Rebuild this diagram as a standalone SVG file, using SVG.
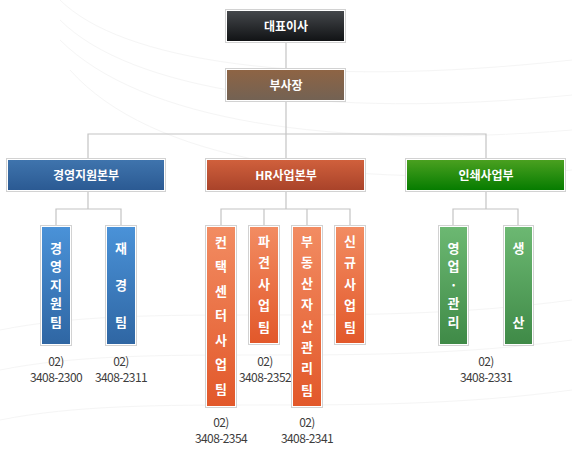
<svg xmlns="http://www.w3.org/2000/svg" width="572" height="455" viewBox="0 0 572 455">
<defs>
<linearGradient id="gDark" x1="0" y1="0" x2="0" y2="1"><stop offset="0" stop-color="#44474b"/><stop offset="1" stop-color="#111315"/></linearGradient>
<linearGradient id="gBrown" x1="0" y1="0" x2="0" y2="1"><stop offset="0" stop-color="#8e6444"/><stop offset="1" stop-color="#736253"/></linearGradient>
<linearGradient id="gBlueH" x1="0" y1="0" x2="0" y2="1"><stop offset="0" stop-color="#3f74ad"/><stop offset="1" stop-color="#2b5a93"/></linearGradient>
<linearGradient id="gOrangeH" x1="0" y1="0" x2="0" y2="1"><stop offset="0" stop-color="#d0603c"/><stop offset="1" stop-color="#a9432a"/></linearGradient>
<linearGradient id="gGreenH" x1="0" y1="0" x2="0" y2="1"><stop offset="0" stop-color="#4aa020"/><stop offset="1" stop-color="#067c00"/></linearGradient>
<linearGradient id="gBlue" x1="0" y1="0" x2="0" y2="1"><stop offset="0" stop-color="#4a92d8"/><stop offset="1" stop-color="#2f66a3"/></linearGradient>
<linearGradient id="gOrange" x1="0" y1="0" x2="0" y2="1"><stop offset="0" stop-color="#f28c62"/><stop offset="1" stop-color="#e2582a"/></linearGradient>
<linearGradient id="gGreen" x1="0" y1="0" x2="0" y2="1"><stop offset="0" stop-color="#6cb872"/><stop offset="1" stop-color="#3f8a47"/></linearGradient>
</defs>
<style>
.frame{fill:#ffffff;stroke:#d2d2d2;stroke-width:1}
.t{font-family:"Noto Sans CJK KR","Noto Sans",sans-serif;font-weight:bold;font-size:12px;fill:#ffffff;text-anchor:middle}
.v{font-family:"Noto Sans CJK KR","Noto Sans",sans-serif;font-weight:bold;font-size:13px;fill:#ffffff;text-anchor:middle}
.p{font-family:"Noto Sans CJK KR","Noto Sans",sans-serif;font-size:12px;fill:#3c3c3c;text-anchor:middle;letter-spacing:-0.6px}
.c{fill:none;stroke:#c4c4c4;stroke-width:1.2}
.bg{fill:none;stroke:#f5f5f5;stroke-width:1}
</style>
<rect x="0" y="0" width="572" height="455" fill="#ffffff"/>
<g id="background">
<path class="bg" d="M60 0 C120 60 300 90 572 60"/>
<path class="bg" d="M60 20 C130 90 320 120 572 95"/>
<path class="bg" d="M60 40 C140 120 330 150 572 130"/>
<path class="bg" d="M70 70 C150 160 340 190 572 170"/>
<path class="bg" d="M0 330 C150 300 350 330 572 300"/>
<path class="bg" d="M0 370 C150 340 350 370 572 340"/>
<path class="bg" d="M0 420 C150 390 350 420 572 390"/>
</g>
<g id="connectors">
<path class="c" d="M286 42 V68"/>
<path class="c" d="M286 102 V158"/>
<path class="c" d="M88 158 V134 H486 V158"/>
<path class="c" d="M88 192 V209"/>
<path class="c" d="M56 225 V209 H121 V225"/>
<path class="c" d="M286 192 V209"/>
<path class="c" d="M221 225 V209 H350 V225"/>
<path class="c" d="M264 209 V225"/>
<path class="c" d="M307 209 V225"/>
<path class="c" d="M486 192 V209"/>
<path class="c" d="M453 225 V209 H518 V225"/>
</g>
<g id="ceo"><rect class="frame" x="225.5" y="9.5" width="120" height="33"/><rect x="227" y="11" width="117" height="30" fill="url(#gDark)"/><text class="t" x="286" y="30.5">대표이사</text></g>
<g id="vp"><rect class="frame" x="225.5" y="68.5" width="120" height="33"/><rect x="227" y="70" width="117" height="30" fill="url(#gBrown)"/><text class="t" x="286" y="89.5">부사장</text></g>
<g id="div-mgmt"><rect class="frame" x="6.5" y="158.5" width="159" height="33"/><rect x="8" y="160" width="156" height="30" fill="url(#gBlueH)"/><text class="t" x="86" y="179.5">경영지원본부</text></g>
<g id="div-hr"><rect class="frame" x="205.5" y="158.5" width="160" height="33"/><rect x="207" y="160" width="157" height="30" fill="url(#gOrangeH)"/><text class="t" x="286" y="179.5">HR사업본부</text></g>
<g id="div-print"><rect class="frame" x="405.5" y="158.5" width="160" height="33"/><rect x="407" y="160" width="157" height="30" fill="url(#gGreenH)"/><text class="t" x="486" y="179.5">인쇄사업부</text></g>
<g id="team-mgmt"><rect class="frame" x="40.5" y="225.5" width="31" height="120"/><rect x="42" y="227" width="28" height="117" fill="url(#gBlue)"/>
<text class="v" x="56" y="252.5">경</text><text class="v" x="56" y="271">영</text><text class="v" x="56" y="289.5">지</text><text class="v" x="56" y="308">원</text><text class="v" x="56" y="326.5">팀</text>
<text class="p" x="56" y="366">02)</text><text class="p" x="56" y="382">3408-2300</text></g>
<g id="team-finance"><rect class="frame" x="105.5" y="225.5" width="31" height="120"/><rect x="107" y="227" width="28" height="117" fill="url(#gBlue)"/>
<text class="v" x="121" y="252.5">재</text><text class="v" x="121" y="289.5">경</text><text class="v" x="121" y="326.5">팀</text>
<text class="p" x="121" y="366">02)</text><text class="p" x="121" y="382">3408-2311</text></g>
<g id="team-contact"><rect class="frame" x="205.5" y="225.5" width="31" height="182"/><rect x="207" y="227" width="28" height="179" fill="url(#gOrange)"/>
<text class="v" x="221" y="246.5">컨</text><text class="v" x="221" y="271">택</text><text class="v" x="221" y="295.5">센</text><text class="v" x="221" y="320">터</text><text class="v" x="221" y="344.5">사</text><text class="v" x="221" y="369">업</text><text class="v" x="221" y="393.5">팀</text>
<text class="p" x="221" y="427">02)</text><text class="p" x="221" y="443">3408-2354</text></g>
<g id="team-dispatch"><rect class="frame" x="248.5" y="225.5" width="31" height="119"/><rect x="250" y="227" width="28" height="116" fill="url(#gOrange)"/>
<text class="v" x="264" y="245.5">파</text><text class="v" x="264" y="267">견</text><text class="v" x="264" y="288.5">사</text><text class="v" x="264" y="310">업</text><text class="v" x="264" y="331.5">팀</text>
<text class="p" x="265" y="366">02)</text><text class="p" x="265" y="382">3408-2352</text></g>
<g id="team-realestate"><rect class="frame" x="291.5" y="225.5" width="31" height="182"/><rect x="293" y="227" width="28" height="179" fill="url(#gOrange)"/>
<text class="v" x="307" y="245.5">부</text><text class="v" x="307" y="266.8">동</text><text class="v" x="307" y="288.1">산</text><text class="v" x="307" y="309.4">자</text><text class="v" x="307" y="330.7">산</text><text class="v" x="307" y="352">관</text><text class="v" x="307" y="373.3">리</text><text class="v" x="307" y="394.6">팀</text>
<text class="p" x="307" y="427">02)</text><text class="p" x="307" y="443">3408-2341</text></g>
<g id="team-new"><rect class="frame" x="334.5" y="225.5" width="31" height="119"/><rect x="336" y="227" width="28" height="116" fill="url(#gOrange)"/>
<text class="v" x="350" y="245.5">신</text><text class="v" x="350" y="267">규</text><text class="v" x="350" y="288.5">사</text><text class="v" x="350" y="310">업</text><text class="v" x="350" y="331.5">팀</text></g>
<g id="team-sales"><rect class="frame" x="438.5" y="225.5" width="30" height="120"/><rect x="440" y="227" width="27" height="117" fill="url(#gGreen)"/>
<text class="v" x="453.5" y="252.5">영</text><text class="v" x="453.5" y="271">업</text><text class="v" x="453.5" y="289.5">·</text><text class="v" x="453.5" y="308">관</text><text class="v" x="453.5" y="326.5">리</text></g>
<g id="team-production"><rect class="frame" x="503.5" y="225.5" width="30" height="120"/><rect x="505" y="227" width="27" height="117" fill="url(#gGreen)"/>
<text class="v" x="518.5" y="252.5">생</text><text class="v" x="518.5" y="326.5">산</text></g>
<g id="phone-print"><text class="p" x="486" y="366">02)</text><text class="p" x="486" y="382">3408-2331</text></g>
</svg>
